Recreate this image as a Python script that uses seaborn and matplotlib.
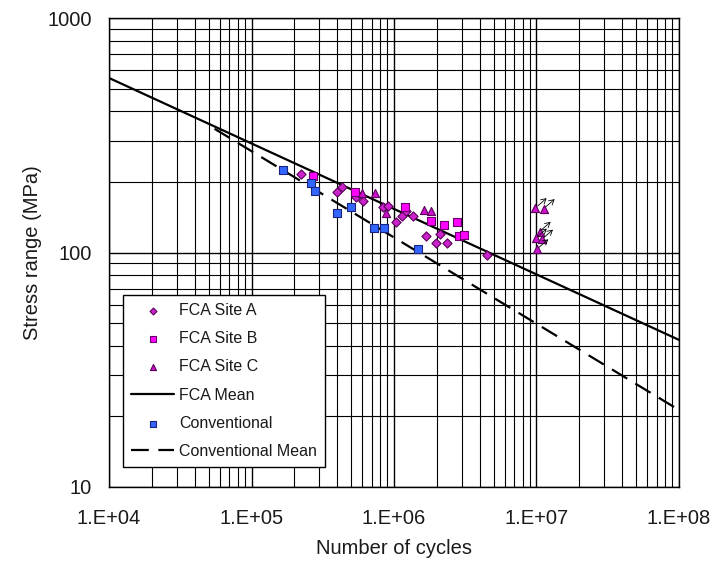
import numpy as np
import pandas as pd
import seaborn as sns
import matplotlib.pyplot as plt
from matplotlib.ticker import LogLocator, NullFormatter

# FCA Site A (diamonds)
site_a_cycles = [2.21e5, 3.96e5, 4.30e5, 5.41e5, 6.03e5, 8.41e5, 9.12e5, 1.03e6,
                 1.13e6, 1.21e6, 1.35e6, 1.67e6, 1.97e6, 2.10e6, 2.35e6, 4.48e6]
site_a_stress = [216, 182, 191, 173, 166, 156, 158.5, 135,
                 143.6, 150, 143.6, 118, 110, 119.7, 110, 98]

# FCA Site B (squares)
site_b_cycles = [2.72e5, 5.32e5, 1.20e6, 1.82e6, 2.24e6, 2.75e6, 2.87e6, 3.10e6]
site_b_stress = [212, 181, 156.6, 136, 131, 134.6, 117.5, 118.8]

# FCA Site C (triangles), failures and run-outs
site_c_cycles = [5.93e5, 7.36e5, 8.75e5, 1.63e6, 1.81e6]
site_c_stress = [179, 179.4, 147, 152, 150]
runout_cycles = [9.84e6, 1.12e7, 1.05e7, 9.87e6, 1.09e7, 1.01e7]
runout_stress = [155, 153.5, 122.8, 115, 113.8, 103.5]

# Conventional (blue squares)
conv_cycles = [1.66e5, 2.60e5, 2.79e5, 4.0e5, 4.97e5, 7.28e5, 8.55e5, 1.47e6]
conv_stress = [225, 197, 183, 148, 156, 127, 127, 103.5]

# Mean S-N lines
fca_mean_cycles = [1e4, 1e8]
fca_mean_stress = [555, 42.4]
conv_mean_cycles = [5.5e4, 1e8]
conv_mean_stress = [337, 21.3]

x_ticks = [1e4, 1e5, 1e6, 1e7, 1e8]
x_labels = ["1.E+04", "1.E+05", "1.E+06", "1.E+07", "1.E+08"]
y_ticks = [10, 100, 1000]
y_labels = ["10", "100", "1000"]

sns.set_style("white")
plt.rcParams['font.family'] = ['Liberation Sans', 'DejaVu Sans']
plt.rcParams['text.color'] = '#1a1a1a'
plt.rcParams['axes.labelcolor'] = '#1a1a1a'

fig = plt.figure(figsize=(7.13, 5.63), dpi=100)
ax = fig.add_axes([0.1529, 0.135, 0.7994, 0.833])
ax.set_xscale('log')
ax.set_yscale('log')

site_c_all_cycles = site_c_cycles + runout_cycles
site_c_all_stress = site_c_stress + runout_stress

sns.scatterplot(x=site_a_cycles, y=site_a_stress, ax=ax, marker='D', s=22,
                color='#cc22cc', edgecolor='#5a005a', linewidth=0.8,
                label='FCA Site A', zorder=4)
sns.scatterplot(x=site_b_cycles, y=site_b_stress, ax=ax, marker='s', s=30,
                color='#ff00ff', edgecolor='#6a006a', linewidth=0.8,
                label='FCA Site B', zorder=4)
sns.scatterplot(x=site_c_all_cycles, y=site_c_all_stress, ax=ax, marker='^', s=34,
                color='#cc11cc', edgecolor='#5a005a', linewidth=0.8,
                label='FCA Site C', zorder=4)
sns.lineplot(x=fca_mean_cycles, y=fca_mean_stress, ax=ax, color='black',
             linewidth=1.6, label='FCA Mean', zorder=3)
sns.scatterplot(x=conv_cycles, y=conv_stress, ax=ax, marker='s', s=30,
                color='#3366ff', edgecolor='#1a237e', linewidth=0.8,
                label='Conventional', zorder=4)
sns.lineplot(x=conv_mean_cycles, y=conv_mean_stress, ax=ax, color='black',
             linewidth=1.6, linestyle=(0, (8, 4.3)), label='Conventional Mean', zorder=3)

# run-out arrows
for n, s in zip(runout_cycles, runout_stress):
    ax.annotate('', xy=(n, s), xytext=(8, 7), textcoords='offset points',
                arrowprops=dict(arrowstyle='<-,head_length=0.35,head_width=0.2',
                                color='black', lw=0.6, shrinkA=0, shrinkB=2),
                zorder=5)

ax.set_xlim(1e4, 1e8)
ax.set_ylim(10, 1000)
ax.set_xticks(x_ticks, x_labels)
ax.set_yticks(y_ticks, y_labels)
ax.xaxis.set_minor_locator(LogLocator(base=10, subs=np.arange(2, 10), numticks=20))
ax.yaxis.set_minor_locator(LogLocator(base=10, subs=np.arange(2, 10), numticks=20))
ax.xaxis.set_minor_formatter(NullFormatter())
ax.yaxis.set_minor_formatter(NullFormatter())
ax.tick_params(which='major', direction='out', length=5, width=1, colors='black',
               labelcolor='#1a1a1a', labelsize=14.5)
ax.tick_params(axis='x', which='major', pad=11)
ax.tick_params(axis='y', which='major', pad=7.5)
ax.tick_params(which='minor', length=0)
ax.grid(which='major', color='black', linewidth=1.0)
ax.grid(which='minor', color='black', linewidth=0.8)
ax.set_axisbelow(True)
for sp in ax.spines.values():
    sp.set_color('black')
    sp.set_linewidth(1)

ax.set_xlabel('Number of cycles', fontsize=14.5, labelpad=8)
ax.set_ylabel('Stress range (MPa)', fontsize=14.5, labelpad=4)

order = ['FCA Site A', 'FCA Site B', 'FCA Site C', 'FCA Mean', 'Conventional', 'Conventional Mean']
handles, labels = ax.get_legend_handles_labels()
hmap = dict(zip(labels, handles))
leg = ax.legend([hmap[k] for k in order], order, loc='lower left',
                bbox_to_anchor=(0.0246, 0.0426), borderaxespad=0, fontsize=11.5,
                frameon=True, fancybox=False, edgecolor='black', framealpha=1,
                markerscale=0.75, handlelength=2.7, handletextpad=0.3,
                labelspacing=0.83, borderpad=0.5)
leg.get_frame().set_linewidth(1)

fig.savefig('out.png', dpi=100)
